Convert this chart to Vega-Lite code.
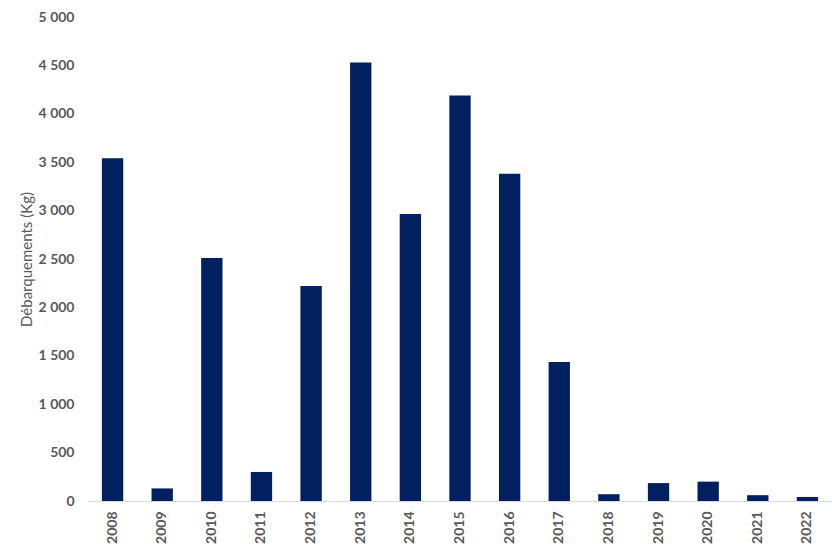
{
  "$schema": "https://vega.github.io/schema/vega-lite/v6.json",
  "autosize": "none",
  "width": 744,
  "height": 484,
  "padding": {"left": 88, "top": 17, "right": 0, "bottom": 47},
  "background": "white",
  "data": {
    "values": [
      {"year": "2008", "kg": 3540},
      {"year": "2009", "kg": 130},
      {"year": "2010", "kg": 2510},
      {"year": "2011", "kg": 300},
      {"year": "2012", "kg": 2220},
      {"year": "2013", "kg": 4530},
      {"year": "2014", "kg": 2965},
      {"year": "2015", "kg": 4190},
      {"year": "2016", "kg": 3380},
      {"year": "2017", "kg": 1435},
      {"year": "2018", "kg": 70},
      {"year": "2019", "kg": 185},
      {"year": "2020", "kg": 200},
      {"year": "2021", "kg": 60},
      {"year": "2022", "kg": 42}
    ]
  },
  "mark": {"type": "bar", "color": "#002060"},
  "encoding": {
    "x": {
      "field": "year",
      "type": "ordinal",
      "scale": {"paddingInner": 0.57, "paddingOuter": 0.28},
      "axis": {
        "title": null,
        "labelAngle": -90,
        "labelAlign": "right",
        "labelBaseline": "middle",
        "labelPadding": 10,
        "ticks": false,
        "domainColor": "#d9d9d9",
        "domainWidth": 1,
        "labelColor": "#595959",
        "labelFont": "Lato",
        "labelFontWeight": "bold",
        "labelFontSize": 14
      }
    },
    "y": {
      "field": "kg",
      "type": "quantitative",
      "scale": {"domain": [0, 5000], "nice": false},
      "axis": {
        "title": "Débarquements (Kg)",
        "values": [0, 500, 1000, 1500, 2000, 2500, 3000, 3500, 4000, 4500, 5000],
        "labelExpr": "replace(format(datum.value, ','), ',', ' ')",
        "grid": false,
        "domain": false,
        "ticks": false,
        "labelPadding": 14,
        "labelColor": "#595959",
        "labelFont": "Lato",
        "labelFontWeight": "bold",
        "labelFontSize": 14,
        "titleColor": "#595959",
        "titleFont": "Lato",
        "titleFontWeight": "normal",
        "titleFontSize": 15,
        "titlePadding": 4
      }
    }
  },
  "config": {"view": {"stroke": null}}
}
